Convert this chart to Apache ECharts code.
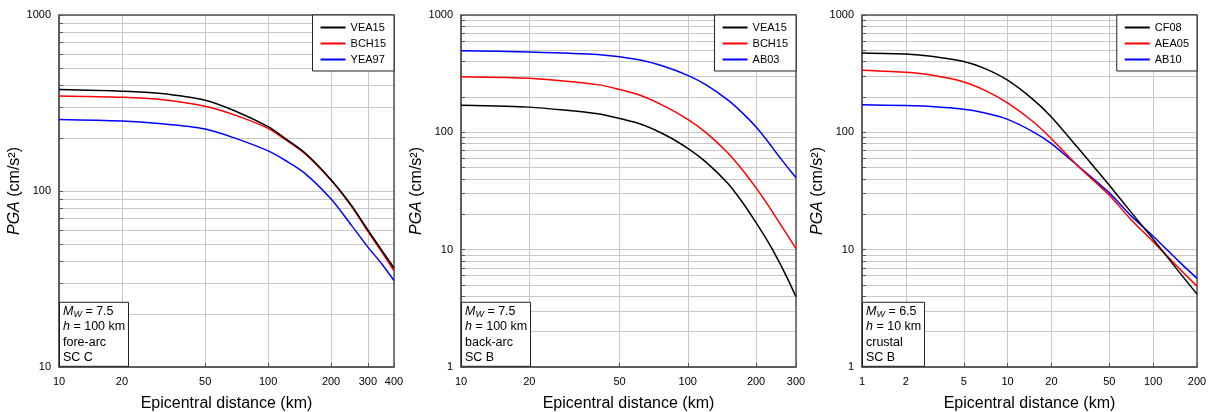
<!DOCTYPE html>
<html>
<head>
<meta charset="utf-8">
<script src="https://cdn.jsdelivr.net/npm/echarts@6/dist/echarts.min.js"></script>
<style>html,body{margin:0;padding:0;background:#fff}#c{width:1214px;height:412px}</style>
</head>
<body>
<div id="c"></div>
<script>
// ---- Panel 1: Mw 7.5, h 100 km, fore-arc, SC C
const p1Dist = [10, 20, 30, 50, 70, 100, 120, 150, 200, 250, 300, 350, 400];
const p1VEA15 = [377, 369, 359, 328, 284, 232, 200, 165, 116, 83, 60, 46, 36.5];
const p1BCH15 = [347, 341, 332, 303, 269, 227, 197, 163, 115, 82, 59, 45, 35.2];
const p1YEA97 = [255, 250, 242, 225, 199, 169, 150, 126, 90, 64, 48, 38.5, 31];
const p1XTicks = [10, 20, 50, 100, 200, 300, 400];
const p1YLabels = [10, 100, 1000];

// ---- Panel 2: Mw 7.5, h 100 km, back-arc, SC B
const p2Dist = [10, 20, 40, 60, 80, 100, 120, 150, 175, 200, 225, 250, 275, 300];
const p2VEA15 = [170, 164, 144, 120, 94.5, 73, 56, 36.8, 25, 17, 11.8, 8.2, 5.7, 3.97];
const p2BCH15 = [298, 289, 255, 211, 165, 129, 100, 67, 47.3, 33.6, 24.2, 17.7, 13.3, 10.2];
const p2AB03 = [497, 484, 460, 417, 361, 306, 255, 189, 145, 111, 84, 64, 50.5, 41];
const p2XTicks = [10, 20, 50, 100, 200, 300];
const p2YLabels = [1, 10, 100, 1000];

// ---- Panel 3: Mw 6.5, h 10 km, crustal, SC B
const p3Dist = [1, 2, 3, 5, 7, 10, 15, 20, 30, 50, 70, 100, 150, 200];
const p3CF08 = [475, 465, 445, 401, 349, 278, 190, 135, 75.2, 35.4, 21.1, 12.3, 6.5, 4.18];
const p3AEA05 = [338, 325, 308, 269, 228, 178, 123, 88.3, 52.5, 29.1, 18.2, 11.7, 6.97, 4.89];
const p3AB10 = [172, 169, 166, 157, 146, 129, 101, 80.2, 52.5, 30.5, 19.6, 13.0, 7.95, 5.69];
const p3XTicks = [1, 2, 5, 10, 20, 50, 100, 200];
const p3YLabels = [1, 10, 100, 1000];

const yMinorTicks = [1,2,3,4,5,6,7,8,9,10,20,30,40,50,60,70,80,90,100,200,300,400,500,600,700,800,900,1000];

const FONT = 'Liberation Sans, Arial, sans-serif';
const COLORS = ['#000000', '#ff0000', '#0000ff'];

const panels = [
  { left: 59, xMin: 10, xMax: 400, yMin: 10, dist: p1Dist, xTicks: p1XTicks, yLabels: p1YLabels, smooth: 0.3,
    names: ['VEA15', 'BCH15', 'YEA97'], vals: [p1VEA15, p1BCH15, p1YEA97],
    note: '{i|M}{s|W}{n| = 7.5}\n{i|h}{n| = 100 km}\n{n|fore-arc}\n{n|SC C}' },
  { left: 461, xMin: 10, xMax: 300, yMin: 1, dist: p2Dist, xTicks: p2XTicks, yLabels: p2YLabels, smooth: 0.2,
    names: ['VEA15', 'BCH15', 'AB03'], vals: [p2VEA15, p2BCH15, p2AB03],
    note: '{i|M}{s|W}{n| = 7.5}\n{i|h}{n| = 100 km}\n{n|back-arc}\n{n|SC B}' },
  { left: 862, xMin: 1, xMax: 200, yMin: 1, dist: p3Dist, xTicks: p3XTicks, yLabels: p3YLabels, smooth: 0.2,
    names: ['CF08', 'AEA05', 'AB10'], vals: [p3CF08, p3AEA05, p3AB10],
    note: '{i|M}{s|W}{n| = 6.5}\n{i|h}{n| = 10 km}\n{n|crustal}\n{n|SC B}' }
];

const W = 335, TOP = 15, H = 352;
const option = { animation: false, backgroundColor: '#fff', grid: [], xAxis: [], yAxis: [], series: [], legend: [], title: [] };

panels.forEach((p, k) => {
  option.grid.push({ left: p.left, top: TOP, width: W, height: H, show: true, containLabel: false,
    outerBoundsMode: 'none',
    borderColor: '#555', borderWidth: 1.5, backgroundColor: 'transparent', z: 5 });
  option.xAxis.push({
    type: 'log', logBase: 10, gridIndex: k, min: p.xMin, max: p.xMax,
    name: 'Epicentral distance (km)', nameLocation: 'middle', nameGap: 29,
    nameTextStyle: { fontFamily: FONT, fontSize: 16, color: '#000' },
    axisLine: { show: true, lineStyle: { color: '#555', width: 1.5 } },
    axisTick: { show: true, inside: true, length: 4, customValues: p.xTicks, lineStyle: { color: '#555' } },
    axisLabel: { customValues: p.xTicks, margin: 9, fontFamily: FONT, fontSize: 11, color: '#000',
      formatter: v => String(Math.round(v)) },
    splitLine: { show: true, lineStyle: { color: '#c8c8c8', width: 1 } },
    minorTick: { show: false }, minorSplitLine: { show: false }
  });
  option.yAxis.push({
    type: 'log', logBase: 10, gridIndex: k, min: p.yMin, max: 1000,
    name: '{i|PGA} (cm/s²)', nameLocation: 'middle', nameGap: 27,
    nameTextStyle: { fontFamily: FONT, fontSize: 16, color: '#000', rich: { i: { fontStyle: 'italic', fontSize: 16, fontFamily: FONT } } },
    axisLine: { show: true, lineStyle: { color: '#555', width: 1.5 } },
    axisTick: { show: true, inside: true, length: 4, customValues: yMinorTicks.filter(v => v >= p.yMin), lineStyle: { color: '#555' } },
    axisLabel: { customValues: p.yLabels, margin: 8, fontFamily: FONT, fontSize: 11, color: '#000',
      formatter: v => String(Math.round(v)) },
    splitLine: { show: true, lineStyle: { color: '#c8c8c8', width: 1 } }
  });
  p.names.forEach((nm, j) => {
    option.series.push({
      name: nm, type: 'line', xAxisIndex: k, yAxisIndex: k, symbol: 'none', smooth: p.smooth,
      lineStyle: { color: COLORS[j], width: 1.5 }, itemStyle: { color: COLORS[j] },
      z: 10 - j,
      data: p.dist.map((d, i) => [d, p.vals[j][i]])
    });
  });
  option.legend.push({
    data: p.names, orient: 'vertical', right: 1214 - (p.left + W), top: TOP,
    backgroundColor: '#fff', borderColor: '#222', borderWidth: 1, borderRadius: 0,
    padding: [7, 8, 6, 7], itemWidth: 25, itemHeight: 11, itemGap: 5,
    itemStyle: { opacity: 0 },
    textStyle: { fontFamily: FONT, fontSize: 11, color: '#000' }, z: 20
  });
  option.title.push({
    text: p.note, left: p.left, bottom: 412 - (TOP + H), padding: [2, 4, 2, 4],
    backgroundColor: '#fff', borderColor: '#222', borderWidth: 1, z: 20,
    textStyle: { fontFamily: FONT, fontSize: 12.5, fontWeight: 'normal', color: '#000', lineHeight: 15.3,
      rich: {
        i: { fontStyle: 'italic', fontWeight: 'normal', fontFamily: FONT, fontSize: 12.5, lineHeight: 15.3 },
        s: { fontStyle: 'italic', fontWeight: 'normal', fontFamily: FONT, fontSize: 9, padding: [6, 0, 0, 0], lineHeight: 15.3 },
        n: { fontWeight: 'normal', fontFamily: FONT, fontSize: 12.5, lineHeight: 15.3 }
      } }
  });
});

const chart = echarts.init(document.getElementById('c'), null, { renderer: 'canvas' });
chart.setOption(option);
</script>
</body>
</html>
